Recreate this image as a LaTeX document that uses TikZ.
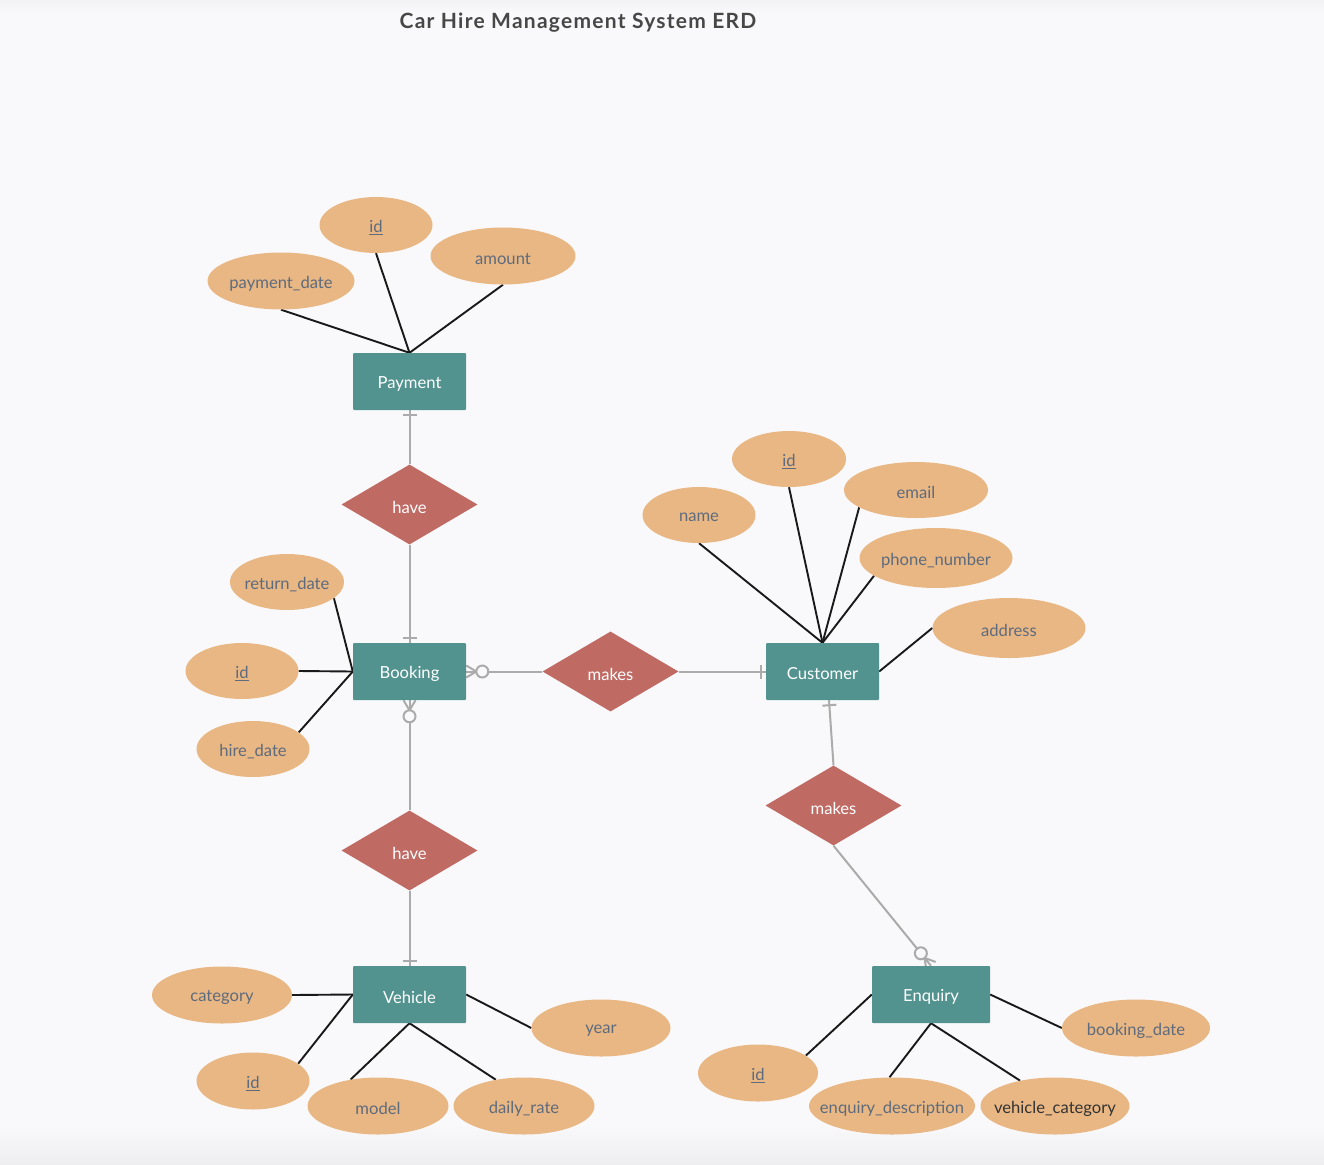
\documentclass[tikz,border=0pt]{standalone}
\usepackage{fontspec}
\setmainfont{Lato}
\usetikzlibrary{shapes.geometric,decorations.markings,calc}
\definecolor{bg}{HTML}{F9F9FB}
\definecolor{bgdark}{HTML}{EEEEF0}
\definecolor{ent}{HTML}{52938F}
\definecolor{rel}{HTML}{C06A64}
\definecolor{att}{HTML}{E9B784}
\definecolor{atxt}{HTML}{5E6B7D}
\definecolor{conn}{HTML}{ABABAB}
\definecolor{ttl}{HTML}{474747}
\newcommand\lowtxt[1]{\raisebox{-2.5pt}[\height][\depth]{#1}}
\newcommand\attxt[1]{\makebox[0pt]{\lowtxt{#1}}}
\pgfdeclarelayer{bottom}
\pgfdeclarelayer{lines}
\pgfsetlayers{bottom,lines,main}
\begin{document}
\begin{tikzpicture}[x=1pt,y=-1pt,
  entity/.style={rectangle, fill=ent, draw=none, rounded corners=1pt, minimum width=113pt, minimum height=57pt, inner sep=0pt, text=white, font=\fontsize{16.6}{19}\selectfont},
  relation/.style={diamond, fill=rel, minimum width=136pt, minimum height=80pt, inner sep=0pt, aspect=1.7, text=white, font=\fontsize{16.6}{19}\selectfont},
  attr/.style={ellipse, fill=att, inner sep=0pt, text=atxt, font=\fontsize{16.6}{19}\selectfont},
  aline/.style={black!90, line width=1.9pt},
  rline/.style={conn, line width=2pt},
  onemark/.style={postaction={decorate}, decoration={markings, mark=at position -5pt with {\draw[conn,line width=2pt] (0pt,-7pt)--(0pt,7pt);}}},
  manymark/.style={postaction={decorate}, decoration={markings, mark=at position -0.1pt with {\draw[conn,line width=2pt,line join=miter] (0pt,6pt)--(-10pt,0pt)--(0pt,-6pt); \draw[conn,line width=2pt,fill=bg] (-16pt,0pt) circle (6pt);}}},
]
\begin{pgfonlayer}{bottom}
\fill[bg] (0,0) rectangle (1324,1164);
\shade[top color=bg, bottom color=bgdark] (0,1125) rectangle (1324,1164);
\shade[top color=bgdark!60!bg, bottom color=bg] (0,0) rectangle (1324,12);
\end{pgfonlayer}
\useasboundingbox (0,0) rectangle (1324,1164);

\node[font={\addfontfeature{LetterSpace=6}\bfseries\fontsize{21}{25}\selectfont}, text=ttl] (title) at (578,23) {Car Hire Management System ERD};

% entities
\node[entity] (pay) at (409.5,381.5) {\lowtxt{Payment}};
\node[entity] (book) at (409.5,671.5) {\lowtxt{Booking}};
\node[entity] (cust) at (822.5,671.5) {\lowtxt{Customer}};
\node[entity] (veh) at (409.5,994.5) {\lowtxt{Vehicle}};
\node[entity, minimum width=118pt] (enq) at (931,994.5) {\lowtxt{Enquiry}};

% relationships
\node[relation] (have1) at (409.5,504.5) {\lowtxt{have}};
\node[relation] (mk1) at (610.5,671.5) {\lowtxt{makes}};
\node[relation] (mk2) at (833.5,805.5) {\lowtxt{makes}};
\node[relation] (have2) at (409.5,850.5) {\lowtxt{have}};

% attributes: payment
\node[attr, minimum width=113pt, minimum height=56pt] (pid) at (376,225) {\attxt{\underline{id}}};
\node[attr, minimum width=145pt, minimum height=57pt] (pamt) at (503,256) {\attxt{amount}};
\node[attr, minimum width=147pt, minimum height=57pt] (pdate) at (281,281) {\attxt{payment\_date}};
% booking
\node[attr, minimum width=114pt, minimum height=56pt] (brd) at (287,582) {\attxt{return\_date}};
\node[attr, minimum width=113pt, minimum height=56pt] (bid) at (242,671) {\attxt{\underline{id}}};
\node[attr, minimum width=113pt, minimum height=56pt] (bhd) at (253,749) {\attxt{hire\_date}};
% customer
\node[attr, minimum width=114pt, minimum height=56pt] (cid) at (789,459) {\attxt{\underline{id}}};
\node[attr, minimum width=144pt, minimum height=56pt] (cemail) at (916,490) {\attxt{email}};
\node[attr, minimum width=113pt, minimum height=56pt] (cname) at (699,515) {\attxt{name}};
\node[attr, minimum width=153pt, minimum height=60pt] (cphone) at (936,558) {\attxt{phone\_number}};
\node[attr, minimum width=153pt, minimum height=60pt] (caddr) at (1009,628) {\attxt{address}};
% vehicle
\node[attr, minimum width=140pt, minimum height=57pt] (vcat) at (222,995) {\attxt{category}};
\node[attr, minimum width=113pt, minimum height=57pt] (vid) at (253,1081) {\attxt{\underline{id}}};
\node[attr, minimum width=141pt, minimum height=57pt] (vmodel) at (378,1106) {\attxt{model}};
\node[attr, minimum width=141pt, minimum height=57pt] (vrate) at (524,1106) {\attxt{daily\_rate}};
\node[attr, minimum width=139pt, minimum height=57pt] (vyear) at (601,1028) {\attxt{year}};
% enquiry
\node[attr, minimum width=120pt, minimum height=57pt] (eid) at (758,1073) {\attxt{\underline{id}}};
\node[attr, minimum width=166pt, minimum height=57pt] (edesc) at (892,1106) {\attxt{enquiry\_description}};
\node[attr, minimum width=149pt, minimum height=57pt, text=black!80] (ecat) at (1055,1106) {\attxt{vehicle\_category}};
\node[attr, minimum width=148pt, minimum height=57pt] (ebook) at (1136,1028) {\attxt{booking\_date}};

\begin{pgfonlayer}{lines}
% attribute lines
\draw[aline] (pdate.south) -- (pay.north);
\draw[aline] (pid.south) -- (pay.north);
\draw[aline] (pamt.south) -- (pay.north);
\draw[aline] (brd.-19) -- (book.west);
\draw[aline] (bid.east) -- (book.west);
\draw[aline] (bhd.20) -- (book.west);
\draw[aline] (cname.south) -- (cust.north);
\draw[aline] (cid.south) -- (cust.north);
\draw[aline] (cemail.197) -- (cust.north);
\draw[aline] (cphone.196) -- (cust.north);
\draw[aline] (caddr.west) -- (cust.east);
\draw[aline] (vcat.east) -- (veh.west);
\draw[aline] (vid.21) -- (veh.west);
\draw[aline] (vmodel.136) -- (veh.south);
\draw[aline] (vrate.137) -- (veh.south);
\draw[aline] (vyear.west) -- (veh.east);
\draw[aline] (eid.20) -- (enq.west);
\draw[aline] (edesc.95) -- (enq.south);
\draw[aline] (ecat.144) -- (enq.south);
\draw[aline] (ebook.west) -- (enq.east);
% relationship lines (drawn from relation to entity)
\draw[rline, onemark] (have1.north) -- (pay.south);
\draw[rline, onemark] (have1.south) -- (book.north);
\draw[rline, manymark] (mk1.west) -- (book.east);
\draw[rline, onemark] (mk1.east) -- (cust.west);
\draw[rline, onemark] (mk2.north) -- ($(cust.south)+(6.5,0)$);
\draw[rline, manymark] (mk2.south) -- (enq.north);
\draw[rline, manymark] (have2.north) -- (book.south);
\draw[rline, onemark] (have2.south) -- (veh.north);
\end{pgfonlayer}
\end{tikzpicture}
\end{document}
